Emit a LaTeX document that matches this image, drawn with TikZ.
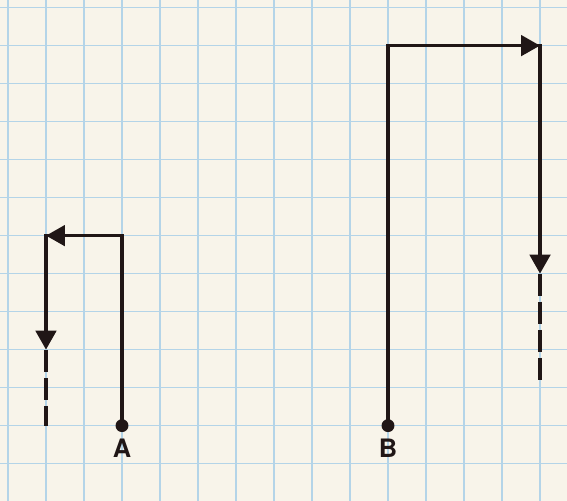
\documentclass[tikz,border=0pt]{standalone}
\usepackage{fontspec}
\setsansfont{TeX Gyre Heros}
\usepackage{xcolor}
\usepackage{tikz}
\usetikzlibrary{positioning, calc, arrows.meta}

\definecolor{paper}{RGB}{248,244,234}
\definecolor{gridblue}{RGB}{180,212,232}
\definecolor{ink}{RGB}{32,22,22}

\begin{document}
\begin{tikzpicture}[every node/.style={font=\sffamily\bfseries\fontsize{19}{23}\selectfont, text=ink},
  wire/.style={draw=ink, line width=2.5pt, line join=miter},
  dashwire/.style={wire, dash pattern=on 0.58cm off 0.16cm},
  dot/.style={circle, fill=ink, minimum size=0.34cm, inner sep=0pt},
  >={Triangle[length=0.5cm,width=0.54cm]}]

% paper and grid
\fill[paper] (-0.21,-0.98) rectangle (14.71,12.2);
\useasboundingbox (-0.21,-0.98) rectangle (14.71,12.2);
\draw[gridblue, line width=1pt] (-0.21,-0.98) grid (14.71,12.2);

% path A
\coordinate (a1) at (3,6);
\coordinate (a2) at (1,6);
\coordinate (a3) at (1,3);
\coordinate (a4) at (1,1);

% path B
\coordinate (b1) at (10,11);
\coordinate (b2) at (14,11);
\coordinate (b3) at (14,5);
\coordinate (b4) at (14,2.1);

\node[dot] (dotA) at (3,1) {};
\node[dot] (dotB) at (10,1) {};
\node[below=0.05cm of dotA] (labA) {A};
\node[below=0.05cm of dotB] (labB) {B};

\draw[wire, ->] (dotA.center) -- (a1) -- (a2) -- (a3);
\draw[wire, ->] (a1) -- (a2);
\draw[dashwire] (a3) -- (a4);

\draw[wire, ->] (dotB.center) -- (b1) -- (b2) -- (b3);
\draw[wire, ->] (b1) -- (b2);
\draw[dashwire] (b3) -- (b4);

\end{tikzpicture}
\end{document}
